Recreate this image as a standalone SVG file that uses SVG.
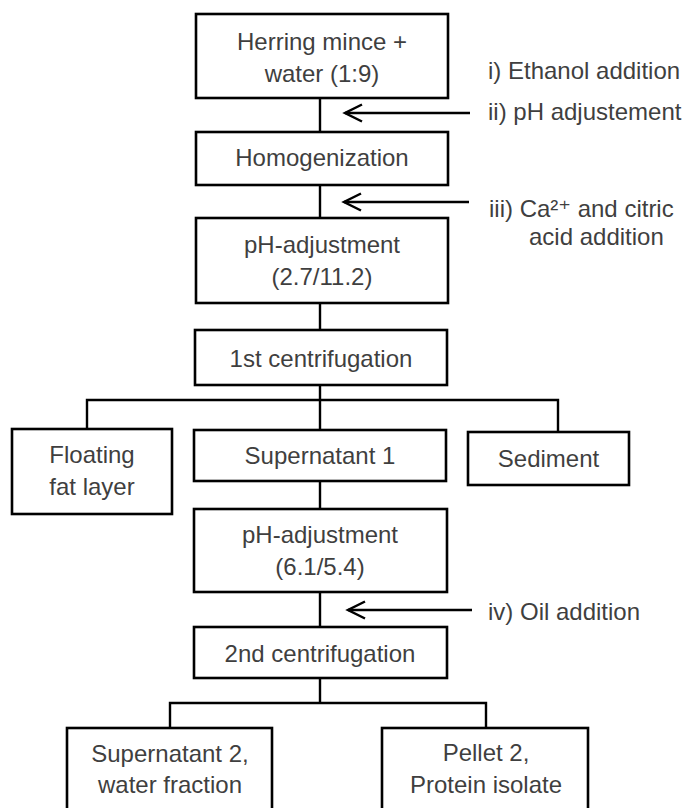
<svg xmlns="http://www.w3.org/2000/svg" width="692" height="808" viewBox="0 0 692 808">
<defs>
<marker id="chev" markerUnits="userSpaceOnUse" markerWidth="24" markerHeight="24" viewBox="-20 -12 24 24" refX="0" refY="0" orient="auto" overflow="visible">
<path d="M-17,-8.5 L0,0 L-17,8.5" fill="none" stroke="#000" stroke-width="2.5"/>
</marker>
<style>
.box{fill:#fff;stroke:#000;stroke-width:2.6}
.t{font-family:"Liberation Sans",Arial,sans-serif;font-size:24px;fill:#3f3f3f;text-anchor:middle}
.l{font-family:"Liberation Sans","DejaVu Sans",Arial,sans-serif;font-size:24px;fill:#3f3f3f}
.c{fill:none;stroke:#000;stroke-width:2.4}
.a{fill:none;stroke:#000;stroke-width:2.4;marker-end:url(#chev)}
</style>
</defs>
<rect width="692" height="808" fill="#fff"/>
<g id="connectors">
<path class="c" d="M320,98 V132 M320,185 V218 M320,303 V330 M320,385 V430 M87,430 V400 H558 V432 M320,481 V509 M320,592 V627 M320,678 V703 M170,728 V703 H486 V728"/>
<line class="a" x1="470" y1="113" x2="345" y2="113"/>
<line class="a" x1="469" y1="202" x2="344" y2="202"/>
<line class="a" x1="472" y1="610" x2="348" y2="610"/>
</g>
<g id="n1"><rect class="box" x="196" y="14" width="252" height="84"/><text class="t" x="322" y="50">Herring mince +</text><text class="t" x="322" y="82">water (1:9)</text></g>
<g id="n2"><rect class="box" x="196" y="132" width="252" height="53"/><text class="t" x="322" y="166">Homogenization</text></g>
<g id="n3"><rect class="box" x="196" y="218" width="252" height="85"/><text class="t" x="322" y="253">pH-adjustment</text><text class="t" x="322" y="285">(2.7/11.2)</text></g>
<g id="n4"><rect class="box" x="195" y="330" width="252" height="55"/><text class="t" x="321" y="367">1st centrifugation</text></g>
<g id="n5"><rect class="box" x="12" y="429" width="160" height="85"/><text class="t" x="92" y="463">Floating</text><text class="t" x="92" y="495">fat layer</text></g>
<g id="n6"><rect class="box" x="194" y="430" width="252" height="51"/><text class="t" x="320" y="464">Supernatant 1</text></g>
<g id="n7"><rect class="box" x="468" y="432" width="161" height="53"/><text class="t" x="548.5" y="467">Sediment</text></g>
<g id="n8"><rect class="box" x="194" y="509" width="253" height="83"/><text class="t" x="320" y="543">pH-adjustment</text><text class="t" x="320" y="575">(6.1/5.4)</text></g>
<g id="n9"><rect class="box" x="194" y="627" width="253" height="51"/><text class="t" x="320" y="662">2nd centrifugation</text></g>
<g id="n10"><rect class="box" x="67" y="728" width="205" height="90"/><text class="t" x="170" y="762">Supernatant 2,</text><text class="t" x="170" y="793">water fraction</text></g>
<g id="n11"><rect class="box" x="382" y="728" width="206" height="90"/><text class="t" x="486" y="761">Pellet 2,</text><text class="t" x="486" y="793">Protein isolate</text></g>
<g id="labels">
<text class="l" x="488" y="79">i) Ethanol addition</text>
<text class="l" x="488" y="120">ii) pH adjustement</text>
<text class="l" x="489" y="217">iii) Ca²⁺ and citric</text>
<text class="l" x="529" y="245">acid addition</text>
<text class="l" x="488" y="620">iv) Oil addition</text>
</g>
</svg>
